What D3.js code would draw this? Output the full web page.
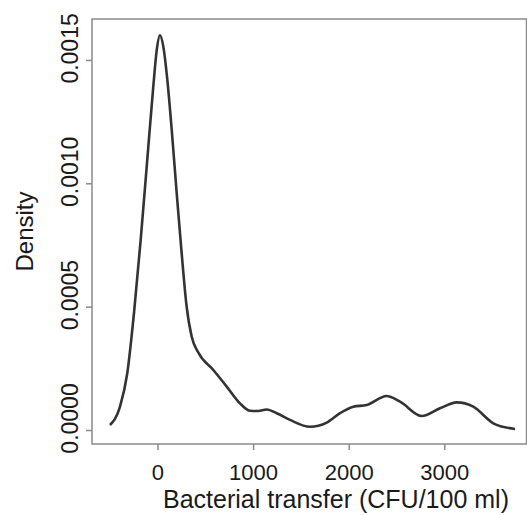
<!DOCTYPE html>
<html>
<head>
<meta charset="utf-8">
<script src="https://cdn.jsdelivr.net/npm/d3@7"></script>
<style>
  html, body { margin: 0; padding: 0; background: #fff; }
  svg { display: block; }
  text { font-family: "Liberation Sans", Arial, Helvetica, sans-serif; fill: #1a1a1a; }
</style>
</head>
<body>
<svg id="chart" width="527" height="515"></svg>
<script>
// Data
const transfer = [-497, -392, -316, -246, -176, -107, -44, -8, 26, 61, 103, 149, 201, 253, 305, 358, 424, 584, 724, 863, 968, 1052, 1142, 1247, 1386, 1595, 1770, 1909, 2048, 2188, 2397, 2537, 2764, 2955, 3130, 3303, 3513, 3740];
const density = [0.0000203, 0.0000945, 0.00023, 0.000473, 0.00077, 0.001095, 0.001392, 0.00154, 0.0016, 0.001554, 0.001419, 0.001216, 0.00096, 0.000716, 0.0005, 0.000378, 0.000316, 0.000243, 0.000176, 0.000108, 0.000078, 0.000077, 0.000083, 0.000068, 0.000041, 0.000013, 0.00003, 0.000068, 0.0000945, 0.000101, 0.000138, 0.000115, 0.0000568, 0.000088, 0.000112, 0.0000945, 0.0000272, 0.000004];
const xTicks = [0, 1000, 2000, 3000];
const yTicks = [0, 0.0005, 0.0010, 0.0015];
const yTickLabels = ["0.0000", "0.0005", "0.0010", "0.0015"];
const xTitle = "Bacterial transfer (CFU/100 ml)";
const yTitle = "Density";

const svg = d3.select("#chart");
const pLeft = 92, pRight = 526.5, pTop = 19, pBottom = 444;

const x = d3.scaleLinear().domain([-685, 3865]).range([pLeft, pRight + 0.5]);
const y = d3.scaleLinear().domain([-0.0000568, 0.001666]).range([pBottom, pTop]);

// box
svg.append("rect")
  .attr("x", pLeft).attr("y", pTop)
  .attr("width", pRight - pLeft).attr("height", pBottom - pTop)
  .attr("fill", "none").attr("stroke", "#8a8a8a").attr("stroke-width", 1.5);

// x axis
const xAxis = svg.append("g").attr("transform", `translate(0,${pBottom})`)
  .call(d3.axisBottom(x).tickValues(xTicks).tickSize(6).tickPadding(14).tickFormat(d3.format("d")));
xAxis.select(".domain").remove();
xAxis.selectAll("line").attr("stroke", "#8a8a8a").attr("stroke-width", 1.5);
xAxis.selectAll("text").attr("font-size", 22).attr("fill", "#1a1a1a")
  .attr("font-family", '"Liberation Sans", Arial, sans-serif');

// y axis
const yAxis = svg.append("g").attr("transform", `translate(${pLeft},0)`)
  .call(d3.axisLeft(y).tickValues(yTicks).tickSize(6).tickFormat((d, i) => yTickLabels[i]));
yAxis.select(".domain").remove();
yAxis.selectAll("line").attr("stroke", "#8a8a8a").attr("stroke-width", 1.5);
yAxis.selectAll("text")
  .attr("font-size", 23).attr("fill", "#1a1a1a")
  .attr("font-family", '"Liberation Sans", Arial, sans-serif')
  .attr("x", null).attr("dy", null)
  .attr("text-anchor", "middle")
  .attr("transform", `translate(${78 - pLeft},-12) rotate(-90)`);

// curve
const pts = transfer.map((t, i) => [t, density[i]]);
const line = d3.line().x(d => x(d[0])).y(d => y(d[1])).curve(d3.curveMonotoneX);
svg.append("path").datum(pts)
  .attr("d", line)
  .attr("fill", "none").attr("stroke", "#333").attr("stroke-width", 2.6)
  .attr("stroke-linejoin", "round");

// titles
svg.append("text").attr("x", 336).attr("y", 508)
  .attr("text-anchor", "middle").attr("font-size", 25).text(xTitle);
svg.append("text").attr("transform", `translate(33,${(pTop + pBottom) / 2}) rotate(-90)`)
  .attr("text-anchor", "middle").attr("font-size", 24).text(yTitle);
</script>
</body>
</html>
